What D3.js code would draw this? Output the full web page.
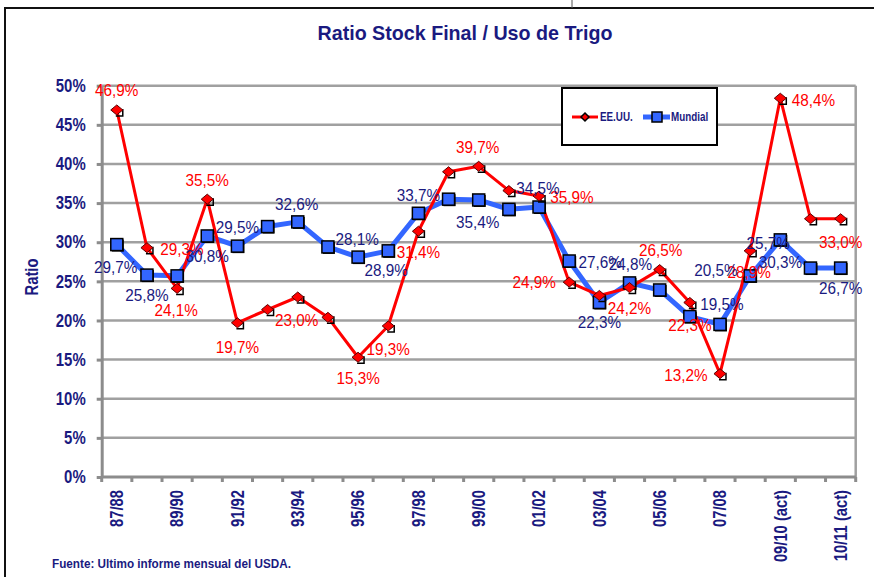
<!DOCTYPE html>
<meta charset="utf-8">
<style>
body { margin: 0; background: #fff; }
svg { font-family: "Liberation Sans", Arial, sans-serif; }
.grid line { stroke: #a0a0a0; stroke-width: 2.5px; }
.axis path, .axis line { stroke: #8c8c8c; stroke-width: 3px; }
.axis text { fill: #1a1a80; font-weight: bold; }
.lbl { font-size: 17px; text-anchor: middle; }
</style>
<body>
<script src="https://cdn.jsdelivr.net/npm/d3@7"></script>
<script>
// seasons on the x axis (only every second one carries a label)
var categories = ["87/88","88/89","89/90","90/91","91/92","92/93","93/94","94/95","95/96","96/97",
  "97/98","98/99","99/00","00/01","01/02","02/03","03/04","04/05","05/06","06/07",
  "07/08","08/09","09/10 (act)","10/11 (ant)","10/11 (act)"];
var tickLabels = ["87/88","89/90","91/92","93/94","95/96","97/98","99/00","01/02",
  "03/04","05/06","07/08","09/10 (act)","10/11 (act)"];
var yTicks = [0, 5, 10, 15, 20, 25, 30, 35, 40, 45, 50];

// stock final / uso, in %
var eeuu = [46.9, 29.3, 24.1, 35.5, 19.7, 21.4, 23.0, 20.4, 15.3, 19.3, 31.4, 39.0, 39.7,
  36.6, 35.9, 24.9, 23.2, 24.2, 26.5, 22.3, 13.2, 28.9, 48.4, 33.0, 33.0];
var mundial = [29.7, 25.8, 25.7, 30.8, 29.5, 32.0, 32.6, 29.4, 28.1, 28.9, 33.7, 35.5, 35.4,
  34.2, 34.5, 27.6, 22.3, 24.8, 23.9, 20.5, 19.5, 25.7, 30.3, 26.7, 26.7];

// where excel left each data label, relative to its point (null = no label)
var eeuuLabelPos = [[0,-20],[35,1],[-1,22],[0,-19],[0,24],null,[-1,23],null,[0,21],[0,23],
  [0,21],null,[-1,-19],null,[33,1],[-35,0],null,[0,20],[1,-20],[0,23],[-34,1],[-1,21],
  [33,2],null,[0,23]];
var mundialLabelPos = [[-1,22],[0,20],null,[0,20],[0,-19],null,[-1,-18],null,[-1,-18],[-2,19],
  [0,-18],null,[-1,22],null,[-1,-19],[31,1],[0,20],[1,-19],null,[26,-47],[2,-20],[18,-33],
  [0,22],null,[0,20]];

var W = 874, H = 577;
var navy = "#1a1a80", red = "#ff0000", blue = "#3366ff";
var plot = {left: 101.7, right: 855.7, top: 85.7, bottom: 477};

// no narrow font here, so squeeze the normal one sideways
function squeeze(sel, k) {
  sel.each(function() {
    var t = d3.select(this);
    var tx = +t.attr("x") || 0, ty = +t.attr("y") || 0, tr = t.attr("transform") || "";
    t.attr("x", 0).attr("y", 0)
      .attr("transform", tr + " translate(" + tx + "," + ty + ") scale(" + k + ",1)");
  });
}

var svg = d3.select("body").append("svg").attr("width", W).attr("height", H);

// outer frame of the excel object
svg.append("path").attr("d", "M5," + H + "V8H" + W).attr("fill", "none")
  .attr("stroke", "#111").attr("stroke-width", 2);
svg.append("line").attr("x1", 572).attr("x2", 572).attr("y1", 0).attr("y2", 8)
  .attr("stroke", "#555").attr("stroke-width", 1);

var x = d3.scaleBand().domain(categories).range([plot.left, plot.right]).padding(0);
var y = d3.scaleLinear().domain([0, 50]).range([plot.bottom, plot.top]);
var cx = function(i) { return x(categories[i]) + x.bandwidth() / 2; };

// gridlines
svg.append("g").attr("class", "grid").selectAll("line")
  .data(yTicks.filter(function(d) { return d > 0; })).enter().append("line")
  .attr("x1", plot.left).attr("x2", plot.right)
  .attr("y1", function(d) { return y(d); }).attr("y2", function(d) { return y(d); });
svg.append("line").attr("x1", plot.right).attr("x2", plot.right)
  .attr("y1", plot.top).attr("y2", plot.bottom)
  .attr("stroke", "#a0a0a0").attr("stroke-width", 2.5);

// y axis
var yAxis = svg.append("g").attr("class", "axis").attr("transform", "translate(" + plot.left + ",0)")
  .call(d3.axisLeft(y).tickValues(yTicks).tickFormat(function(d) { return d + "%"; })
    .tickSize(5).tickPadding(11).tickSizeOuter(0));
yAxis.selectAll("text").style("font-size", "18px").call(squeeze, 0.83);

// x axis: ticks on the category boundaries, labels every second season
var xAxis = svg.append("g").attr("class", "axis").attr("transform", "translate(0," + plot.bottom + ")");
xAxis.append("path").attr("d", "M" + plot.left + ",0H" + plot.right);
xAxis.selectAll(".bound").data(categories.concat(["end"])).enter().append("line")
  .attr("class", "bound")
  .attr("x1", function(d, i) { return plot.left + i * x.step(); })
  .attr("x2", function(d, i) { return plot.left + i * x.step(); })
  .attr("y1", 0).attr("y2", 5);
xAxis.selectAll(".xl").data(tickLabels).enter().append("text")
  .attr("class", "xl")
  .attr("transform", function(d) { return "translate(" + (x(d) + x.bandwidth() / 2) + ",13) rotate(-90)"; })
  .attr("dy", "0.35em").style("text-anchor", "end").style("font-size", "18px")
  .text(function(d) { return d; })
  .call(squeeze, 0.82);

// axis title
svg.append("text").attr("transform", "translate(32,277) rotate(-90)")
  .attr("text-anchor", "middle").attr("dy", "0.35em")
  .style("font-size", "18px").style("font-weight", "bold").attr("fill", navy).text("Ratio")
  .call(squeeze, 0.82);

// title
svg.append("text").attr("x", 465).attr("y", 33).attr("dy", "0.35em").attr("text-anchor", "middle")
  .attr("textLength", 295).attr("lengthAdjust", "spacingAndGlyphs")
  .style("font-size", "21px").style("font-weight", "bold").attr("fill", navy)
  .text("Ratio Stock Final / Uso de Trigo");

// footnote
svg.append("text").attr("x", 52).attr("y", 563).attr("dy", "0.35em")
  .attr("textLength", 239).attr("lengthAdjust", "spacingAndGlyphs")
  .style("font-size", "13px").style("font-weight", "bold").attr("fill", navy)
  .text("Fuente: Ultimo informe mensual del USDA.");

var line = d3.line().x(function(d, i) { return cx(i); }).y(function(d) { return y(d); });

svg.append("path").datum(mundial).attr("d", line).attr("fill", "none")
  .attr("stroke", blue).attr("stroke-width", 5).attr("stroke-linejoin", "round");
svg.append("path").datum(eeuu).attr("d", line).attr("fill", "none")
  .attr("stroke", red).attr("stroke-width", 3).attr("stroke-linejoin", "round");

// markers: squares with a black drop shadow, diamonds with a corner shadow
function squares(g) {
  g.append("rect").attr("x", -5).attr("y", -5).attr("width", 12).attr("height", 12).attr("fill", "#000");
  g.append("rect").attr("x", -6).attr("y", -6).attr("width", 12).attr("height", 12)
    .attr("fill", blue).attr("stroke", "#000").attr("stroke-width", 1.5);
}
function diamonds(g) {
  g.append("path").attr("d", "M6,-1V6H-1").attr("fill", "none").attr("stroke", "#000").attr("stroke-width", 1.5);
  g.append("path").attr("d", "M0,-5L6,0L0,5L-6,0Z").attr("fill", red).attr("stroke", "#5a0000").attr("stroke-width", 1);
}
svg.append("g").selectAll("g").data(mundial).enter().append("g")
  .attr("transform", function(d, i) { return "translate(" + cx(i) + "," + y(d) + ")"; })
  .call(squares);
svg.append("g").selectAll("g").data(eeuu).enter().append("g")
  .attr("transform", function(d, i) { return "translate(" + cx(i) + "," + y(d) + ")"; })
  .call(diamonds);

// data labels
function labels(values, pos, color) {
  svg.append("g").selectAll("text")
    .data(values.map(function(v, i) { return {v: v, i: i, p: pos[i]}; }).filter(function(d) { return d.p; }))
    .enter().append("text").attr("class", "lbl")
    .attr("x", function(d) { return cx(d.i) + d.p[0]; })
    .attr("y", function(d) { return y(d.v) + d.p[1]; })
    .attr("dy", "0.35em").attr("fill", color)
    .text(function(d) { return d.v.toFixed(1).replace(".", ",") + "%"; })
    .call(squeeze, 0.9);
}
labels(eeuu, eeuuLabelPos, red);
labels(mundial, mundialLabelPos, navy);

// legend
var lg = svg.append("g").attr("transform", "translate(562,88)");
lg.append("rect").attr("width", 155).attr("height", 57).attr("fill", "#fff")
  .attr("stroke", "#000").attr("stroke-width", 2);
lg.append("line").attr("x1", 10).attr("x2", 36).attr("y1", 29).attr("y2", 29)
  .attr("stroke", red).attr("stroke-width", 3);
lg.append("path").attr("d", "M23,25L27,29L23,33L19,29Z").attr("fill", red).attr("stroke", "#000").attr("stroke-width", 1.5);
lg.append("text").attr("x", 38).attr("y", 29).attr("dy", "0.35em").style("font-size", "12px")
  .style("font-weight", "bold").attr("fill", navy).text("EE.UU.").call(squeeze, 0.82);
lg.append("line").attr("x1", 81).attr("x2", 108).attr("y1", 29).attr("y2", 29)
  .attr("stroke", blue).attr("stroke-width", 5);
lg.append("rect").attr("x", 90).attr("y", 24).attr("width", 10).attr("height", 10)
  .attr("fill", blue).attr("stroke", "#000").attr("stroke-width", 1.5);
lg.append("text").attr("x", 109).attr("y", 29).attr("dy", "0.35em").style("font-size", "12px")
  .style("font-weight", "bold").attr("fill", navy).text("Mundial").call(squeeze, 0.82);
</script>
</body>
